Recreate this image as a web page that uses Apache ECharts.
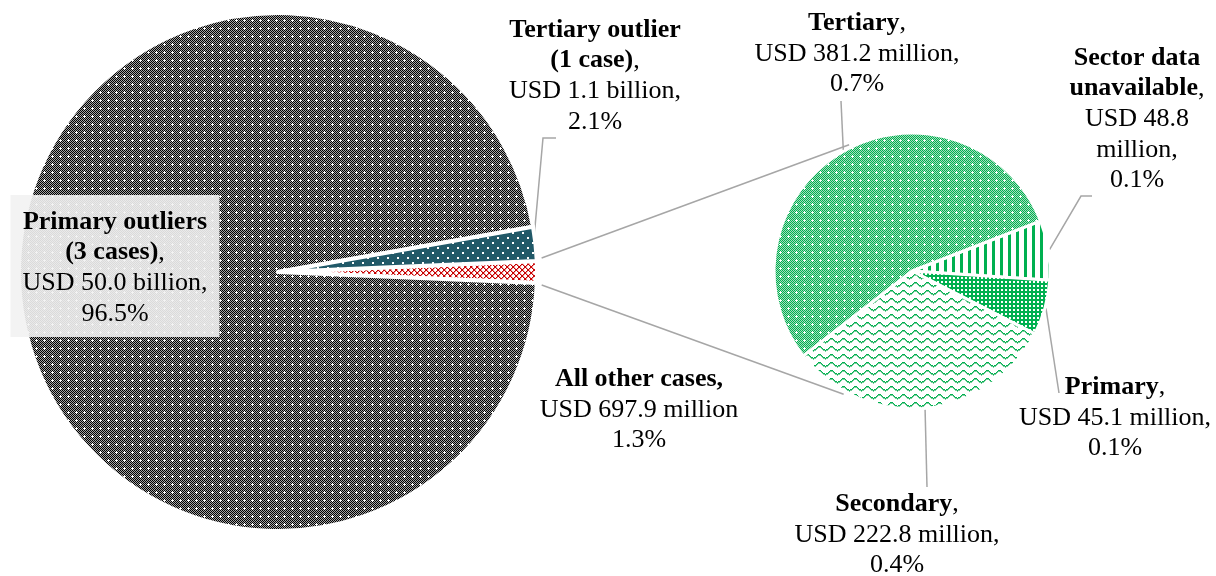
<!DOCTYPE html>
<html><head><meta charset="utf-8">
<script src="https://cdn.jsdelivr.net/npm/echarts@6/dist/echarts.min.js"></script>
<style>html,body{margin:0;padding:0;background:#fff}#c{width:1216px;height:576px}</style>
</head><body><div id="c"></div>
<script>
// ---------- DATA ----------
const mainCategories = ['All other cases', 'Primary outliers (3 cases)', 'Tertiary outlier (1 case)'];
const mainValues = [697.9, 50000, 1100]; // USD million
const mainAmountLabels = ['USD 697.9 million', 'USD 50.0 billion', 'USD 1.1 billion'];
const mainShareLabels = ['1.3%', '96.5%', '2.1%'];

const subCategories = ['Sector data unavailable', 'Primary', 'Secondary', 'Tertiary'];
const subValues = [48.8, 45.1, 222.8, 381.2]; // USD million
const subAmountLabels = ['USD 48.8 million', 'USD 45.1 million', 'USD 222.8 million', 'USD 381.2 million'];
const subShareLabels = ['0.1%', '0.1%', '0.4%', '0.7%'];

// ---------- LAYOUT ----------
const C1 = [278, 272], R1 = 259;
const C2 = [912, 271], R2 = 138, START2 = 21.3;
const mainLabelPos = [[639, 364], [115, 195], [595, 15]];
const subLabelPos = [[1137, 43], [1115, 372], [897, 489], [857, 8]];
const mainLeaderTail = [null, null, [[543, 138], [556, 138]]];
const subLeaderTail = [[[1081, 196], [1092, 196]], [[1059, 393]], [[927, 487]], [[841, 101]]];

// ---------- PATTERNS ----------
function tile(w, h, fn) {
  const c = document.createElement('canvas'); c.width = w; c.height = h;
  const ctx = c.getContext('2d'); const img = ctx.createImageData(w, h);
  for (let y = 0; y < h; y++) for (let x = 0; x < w; x++) {
    const col = fn(x, y); const k = (y * w + x) * 4;
    img.data[k] = col[0]; img.data[k + 1] = col[1]; img.data[k + 2] = col[2]; img.data[k + 3] = 255;
  }
  ctx.putImageData(img, 0, 0); return c;
}
const W = [255, 255, 255];
const BLK = [0, 0, 0], DGR = [165, 165, 165], GRN = [0, 176, 80], MGRN = [165, 222, 190], TEAL = [33, 89, 104], RED = [200, 0, 0], LRED = [235, 150, 150], LGRN = [120, 205, 155];
function crossAt(x, y, cx, cy) { return (x === cx && Math.abs(y - cy) <= 1) || (y === cy && Math.abs(x - cx) <= 1); }
const patDark = tile(8, 8, (x, y) => crossAt(x, y, 4, 4) ? W : ((x + y) % 2 === 0 ? BLK : DGR));
const patTeal = tile(10, 10, (x, y) => ((x >= 2 && x <= 3 && y >= 2 && y <= 3) || (x >= 7 && x <= 8 && y >= 7 && y <= 8)) ? W : TEAL);
const patRed = tile(6, 6, (x, y) => (x === y || x + y === 5) ? RED : ((x === (y + 1) % 6 || x + y === 6) ? LRED : W));
const patGreenDots = tile(8, 8, (x, y) => crossAt(x, y, 4, 4) ? W : ((x + y) % 2 === 0 ? GRN : MGRN));
const patStripes = tile(8, 1, (x) => x < 3 ? GRN : W);
const patGrid = tile(4, 4, (x, y) => (x >= 1 && x <= 2 && y >= 1 && y <= 2) ? W : GRN);
const waveY = [4, 3, 2, 2, 2, 3, 4, 5, 5, 6, 5, 5];
const patWave = tile(12, 8, (x, y) => y === waveY[x] ? GRN : (y === waveY[x] + 1 ? LGRN : W));
const mainPatterns = [patRed, patDark, patTeal];
const subPatterns = [patStripes, patGrid, patWave, patGreenDots];

// ---------- LABEL TEXT ----------
function boldName(name) {
  return name.replace(' (', '\n(').replace('data ', 'data\n').split('\n').map(s => '{b|' + s + '}').join('\n');
}
function mainLabel(i) {
  if (i === 0) return '{b|' + mainCategories[i] + ',}\n' + mainAmountLabels[i] + '\n' + mainShareLabels[i];
  return boldName(mainCategories[i]) + ',\n' + mainAmountLabels[i] + ',\n' + mainShareLabels[i];
}
function subLabel(i) {
  let amt = subAmountLabels[i];
  if (i === 0) amt = amt.replace(' million', '\nmillion');
  return boldName(subCategories[i]) + ',\n' + amt + ',\n' + subShareLabels[i];
}

// ---------- GEOMETRY ----------
function pt(c, r, deg) { const a = deg * Math.PI / 180; return [c[0] + r * Math.cos(a), c[1] - r * Math.sin(a)]; }
function sliceAngles(values, start) {
  const tot = values.reduce((a, b) => a + b, 0); let cur = start; const out = [];
  values.forEach(v => { const span = v / tot * 360; out.push({ s: cur, e: cur - span, m: cur - span / 2 }); cur -= span; });
  return out;
}
const total1 = mainValues.reduce((a, b) => a + b, 0);
const START1 = mainValues[0] / total1 * 360 / 2;
const ang1 = sliceAngles(mainValues, START1);
const ang2 = sliceAngles(subValues, START2);

const lineStyle = { stroke: '#A6A6A6', lineWidth: 1.5, fill: null };
const graphics = [];
// connector lines from the "All other cases" slice to the second pie
const upStart = pt(C1, R1 + 5, ang1[0].s + 0.6), lowStart = pt(C1, R1 + 5, ang1[0].e - 0.4);
graphics.push({ type: 'polyline', z: 1, shape: { points: [upStart, pt(C2, R2 + 3, 116.5)] }, style: lineStyle });
graphics.push({ type: 'polyline', z: 1, shape: { points: [lowStart, pt(C2, R2 + 3, -119)] }, style: lineStyle });
mainLeaderTail.forEach((tail, i) => {
  if (!tail) return;
  graphics.push({ type: 'polyline', z: 1, shape: { points: [pt(C1, R1 - 2, ang1[i].m)].concat(tail) }, style: lineStyle });
});
subLeaderTail.forEach((tail, i) => {
  graphics.push({ type: 'polyline', z: 1, shape: { points: [pt(C2, R2 + 1, ang2[i].m)].concat(tail) }, style: lineStyle });
});

const font = { fontFamily: 'Liberation Serif', fontSize: 26, lineHeight: 30.5, color: '#000' };
const richB = { b: Object.assign({ fontWeight: 'bold' }, font) };

const chart = echarts.init(document.getElementById('c'), null, { renderer: 'canvas' });
chart.setOption({
  animation: false,
  graphic: graphics,
  series: [
    {
      type: 'pie', z: 2, center: C1, radius: R1, startAngle: START1, clockwise: true,
      avoidLabelOverlap: false,
      emphasis: { disabled: true },
      itemStyle: { borderColor: '#fff', borderWidth: 4 },
      labelLine: { show: false },
      label: Object.assign({ show: true, position: 'inside', rich: richB,
        formatter: p => mainLabel(p.dataIndex) }, font),
      labelLayout: p => ({ x: mainLabelPos[p.dataIndex][0], y: mainLabelPos[p.dataIndex][1], align: 'center', verticalAlign: 'top' }),
      data: mainValues.map((v, i) => {
        const d = { name: mainCategories[i], value: v, itemStyle: { color: { image: mainPatterns[i], repeat: 'repeat' } } };
        if (i === 1) d.label = { backgroundColor: 'rgba(242,242,242,0.9)', padding: [12, 12, 8, 12] };
        return d;
      })
    },
    {
      type: 'pie', z: 2, center: C2, radius: R2, startAngle: START2, clockwise: true,
      avoidLabelOverlap: false,
      emphasis: { disabled: true },
      itemStyle: { borderColor: '#fff', borderWidth: 3 },
      labelLine: { show: false },
      label: Object.assign({ show: true, position: 'inside', rich: richB,
        formatter: p => subLabel(p.dataIndex) }, font),
      labelLayout: p => ({ x: subLabelPos[p.dataIndex][0], y: subLabelPos[p.dataIndex][1], align: 'center', verticalAlign: 'top' }),
      data: subValues.map((v, i) => ({ name: subCategories[i], value: v, itemStyle: { color: { image: subPatterns[i], repeat: 'repeat' } } }))
    }
  ]
});
</script>
</body></html>
